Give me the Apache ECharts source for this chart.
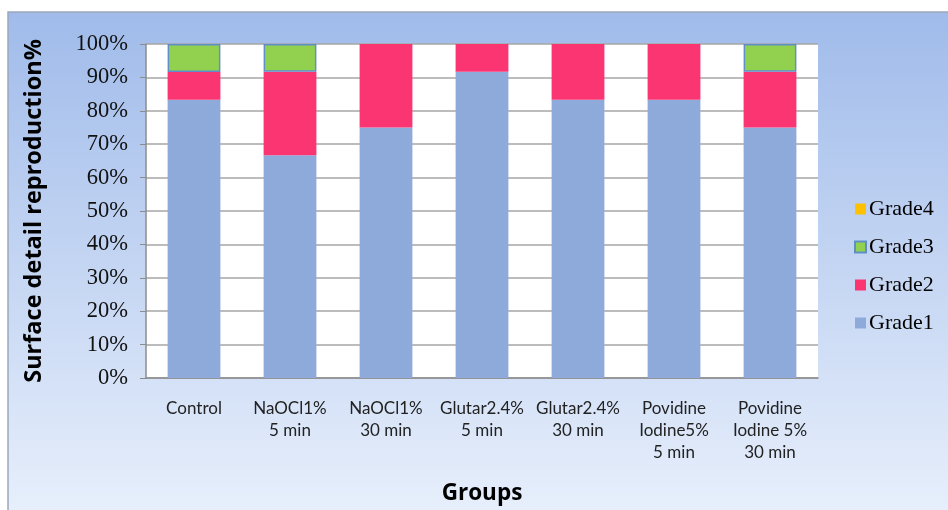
<!DOCTYPE html>
<html><head><meta charset="utf-8">
<script src="https://cdn.jsdelivr.net/npm/echarts@6/dist/echarts.min.js"></script>
<style>html,body{margin:0;padding:0;background:#fff}#c{width:948px;height:510px}</style>
</head><body><div id="c"></div>
<script>
const categories = ['Control','NaOCl1%\n5 min','NaOCl1%\n30 min','Glutar2.4%\n5 min','Glutar2.4%\n30 min','Povidine\nIodine5%\n5 min','Povidine\nIodine 5%\n30 min'];
const grade1 = [83.3, 66.7, 75, 91.7, 83.3, 83.3, 75];
const grade2 = [8.3, 25, 25, 8.3, 16.7, 16.7, 16.7];
const grade3 = [8.4, 8.3, 0, 0, 0, 0, 8.3];
const grade4 = [0, 0, 0, 0, 0, 0, 0];
const yTicks = [0,10,20,30,40,50,60,70,80,90,100];

const nz = arr => arr.map(v => v === 0 ? '-' : v);
const chart = echarts.init(document.getElementById('c'));
const serif = 'Liberation Serif';
chart.setOption({
  animation:false,
  backgroundColor:'#ffffff',
  graphic:[{type:'rect',z:-10,shape:{x:8,y:12,width:960,height:520},
    style:{fill:new echarts.graphic.LinearGradient(0,0,0,1,[{offset:0,color:'#a0bbea'},{offset:1,color:'#eaf1fc'}]),stroke:'#9aa8bc',lineWidth:1.5}}],
  grid:{left:146,right:130,top:44,bottom:130,show:true,backgroundColor:'#ffffff',borderColor:'#d8d8d8',borderWidth:0},
  legend:{orient:'vertical',left:849,top:193,itemGap:16,itemWidth:11,itemHeight:11,icon:'rect',
    data:['Grade4','Grade3','Grade2','Grade1'],
    textStyle:{fontFamily:serif,fontSize:22,color:'#000',padding:[0,0,0,-2]}},
  xAxis:{type:'category',data:categories,
    axisLine:{lineStyle:{color:'#8c8c8c',width:1.5}},axisTick:{show:false},
    axisLabel:{fontFamily:'Lato',fontSize:17,color:'#222',lineHeight:22,margin:20,interval:0},
    name:'Groups',nameLocation:'middle',nameGap:104,
    nameTextStyle:{fontFamily:'Open Sans',fontWeight:'bold',fontSize:22.5,color:'#000'}},
  yAxis:{type:'value',min:0,max:100,interval:10,
    axisLine:{show:true,lineStyle:{color:'#8c8c8c',width:1.5}},
    axisTick:{show:true,length:6,lineStyle:{color:'#8c8c8c'}},
    splitLine:{lineStyle:{color:'#a6a6a6',width:1.5}},
    axisLabel:{fontFamily:serif,fontSize:22.5,color:'#111',margin:18,formatter:v=>yTicks.includes(v)?v+'%':''},
    name:'Surface detail reproduction%',nameLocation:'middle',nameGap:100,
    nameTextStyle:{fontFamily:'Open Sans',fontWeight:'bold',fontSize:23.5,color:'#000'}},
  series:[
    {name:'Grade1',type:'bar',stack:'s',data:nz(grade1),barWidth:'55%',itemStyle:{color:'#8eaadb'}},
    {name:'Grade2',type:'bar',stack:'s',data:nz(grade2),itemStyle:{color:'#fb3572'}},
    {name:'Grade3',type:'bar',stack:'s',data:nz(grade3),itemStyle:{color:'#92d050',borderColor:'#5f8fc9',borderWidth:1.5}},
    {name:'Grade4',type:'bar',stack:'s',data:nz(grade4),itemStyle:{color:'#ffc000'}}
  ]
});
</script></body></html>
